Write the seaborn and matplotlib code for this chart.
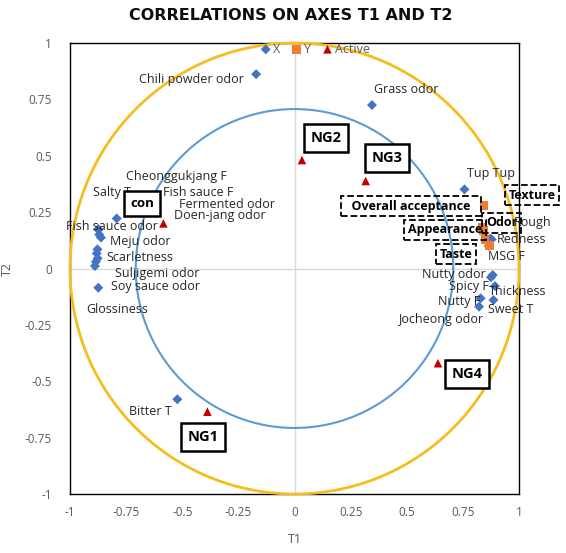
import numpy as np
import pandas as pd
import matplotlib
matplotlib.use("Agg")
import matplotlib.pyplot as plt
import seaborn as sns

# ---- data: coordinates on T1 / T2 ----
x_names = ["Chili powder odor", "Grass odor", "Tup Tup", "Cheonggukjang F", "Salty T",
           "Fish sauce F", "Fermented odor", "Doen-jang odor", "Fish sauce odor", "Meju odor",
           "Scarletness", "Suljigemi odor", "Soy sauce odor", "Glossiness", "Bitter T",
           "Rough", "Redness", "MSG F", "Nutty odor", "Spicy F", "Thickness",
           "Nutty F", "Sweet T", "Jocheong odor"]
x_t1 = [-0.171, 0.345, 0.757, -0.874, -0.792,
        -0.870, -0.878, -0.881, -0.874, -0.862,
        -0.877, -0.889, -0.874, -0.885, -0.522,
        0.872, 0.878, 0.865, 0.883, 0.875, 0.893,
        0.829, 0.886, 0.822]
x_t2 = [0.862, 0.725, 0.351, 0.172, 0.222,
        0.150, 0.085, 0.067, 0.175, 0.137,
        0.045, 0.011, -0.085, 0.030, -0.580,
        0.132, 0.129, 0.100, -0.029, -0.039, -0.078,
        -0.132, -0.140, -0.169]

y_names = ["Overall acceptance", "Texture", "Odor", "Appearance", "Taste"]
y_t1 = [0.844, 0.838, 0.841, 0.849, 0.868]
y_t2 = [0.279, 0.185, 0.168, 0.129, 0.103]

act_names = ["con", "NG1", "NG2", "NG3", "NG4"]
act_t1 = [-0.584, -0.388, 0.033, 0.317, 0.639]
act_t2 = [0.200, -0.635, 0.481, 0.388, -0.420]

ticks = [-1, -0.75, -0.5, -0.25, 0, 0.25, 0.5, 0.75, 1]
tick_labels = ["-1", "-0.75", "-0.5", "-0.25", "0", "0.25", "0.5", "0.75", "1"]

# label placement (layout only)
x_label_pos = {
    "Chili powder odor": (-0.457, 0.840), "Grass odor": (0.497, 0.796), "Tup Tup": (0.877, 0.423),
    "Cheonggukjang F": (-0.528, 0.410), "Salty T": (-0.813, 0.339), "Fish sauce F": (-0.430, 0.335),
    "Fermented odor": (-0.301, 0.282), "Doen-jang odor": (-0.332, 0.237),
    "Fish sauce odor": (-0.813, 0.188), "Meju odor": (-0.688, 0.118), "Scarletness": (-0.688, 0.047),
    "Suljigemi odor": (-0.612, -0.020), "Soy sauce odor": (-0.619, -0.082),
    "Glossiness": (-0.790, -0.184), "Bitter T": (-0.641, -0.632), "Rough": (1.061, 0.202),
    "Redness": (1.009, 0.129), "MSG F": (0.945, 0.055), "Nutty odor": (0.710, -0.026),
    "Spicy F": (0.777, -0.078), "Thickness": (0.993, -0.100), "Nutty F": (0.733, -0.147),
    "Sweet T": (0.963, -0.184), "Jocheong odor": (0.650, -0.225),
}
y_label_pos = {"Overall acceptance": (0.519, 0.277), "Texture": (1.058, 0.326),
               "Odor": (0.922, 0.202), "Appearance": (0.670, 0.171), "Taste": (0.719, 0.064)}
act_label_pos = {"con": (-0.679, 0.290), "NG1": (-0.408, -0.747), "NG2": (0.140, 0.579),
                 "NG3": (0.412, 0.490), "NG4": (0.768, -0.468)}

df_x = pd.DataFrame({"T1": x_t1, "T2": x_t2, "name": x_names})
df_y = pd.DataFrame({"T1": y_t1, "T2": y_t2, "name": y_names})
df_a = pd.DataFrame({"T1": act_t1, "T2": act_t2, "name": act_names})

sns.set_style("white")
plt.rcParams["font.family"] = ["Open Sans", "DejaVu Sans"]

fig = plt.figure(figsize=(5.66, 5.53), dpi=100)
ax = fig.add_axes([0.1237, 0.1067, 0.7933, 0.8155])

# zero lines
ax.axhline(0, color="#d9d9d9", lw=1, zorder=0)
ax.axvline(0, color="#d9d9d9", lw=1, zorder=0)

# correlation circles
theta = np.linspace(0, 2 * np.pi, 400)
ax.plot(np.cos(theta), np.sin(theta), color="#F5BD1F", lw=2, zorder=3, clip_on=False)
r = np.sqrt(0.5)
ax.plot(r * np.cos(theta), r * np.sin(theta), color="#5B9BD5", lw=1.5, zorder=3)

sns.scatterplot(data=df_x, x="T1", y="T2", marker="D", color="#4472C4", s=26,
                edgecolor="none", label="X", ax=ax, zorder=4)
sns.scatterplot(data=df_y, x="T1", y="T2", marker="s", color="#ED7D31", s=38,
                edgecolor="none", label="Y", ax=ax, zorder=4)
sns.scatterplot(data=df_a, x="T1", y="T2", marker="^", color="#C00000", s=38,
                edgecolor="none", label="Active", ax=ax, zorder=4)

txt_color = "#262626"
for n in x_names:
    px, py = x_label_pos[n]
    ax.text(px, py, n, ha="center", va="center", fontsize=9, color=txt_color,
            zorder=5, clip_on=False)

for n in y_names:
    px, py = y_label_pos[n]
    shown = "  " + n + "  " if n == "Overall acceptance" else n
    ax.text(px, py, shown, ha="center", va="center", fontsize=9, fontweight="bold",
            color="black", zorder=6, clip_on=False,
            bbox=dict(boxstyle="square,pad=0.3", fc="none", ec="black", lw=1.3, ls="--"))

for n in act_names:
    px, py = act_label_pos[n]
    fs = 9.5 if n == "con" else 10.5
    ax.text(px, py, n, ha="center", va="center", fontsize=fs, fontweight="bold",
            color="black", zorder=6, clip_on=False,
            bbox=dict(boxstyle="square,pad=0.45", fc="white", ec="black", lw=1.8))

ax.set_xlim(-1, 1)
ax.set_ylim(-1, 1)
ax.set_xticks(ticks)
ax.set_xticklabels(tick_labels)
ax.set_yticks(ticks)
ax.set_yticklabels(tick_labels)
ax.tick_params(axis="both", length=0, labelsize=8.5, labelcolor="#595959")
ax.tick_params(axis="x", pad=9)
ax.tick_params(axis="y", pad=13)
ax.set_xlabel("T1", fontsize=9, color="#595959", labelpad=10)
ax.set_ylabel("T2", fontsize=9, color="#595959", labelpad=8)
for sp in ax.spines.values():
    sp.set_visible(True)
    sp.set_color("black")
    sp.set_linewidth(1)

leg = ax.legend(loc="upper center", bbox_to_anchor=(0.545, 1.012), ncol=3, frameon=False,
                fontsize=9, handletextpad=0.1, columnspacing=0.8, borderaxespad=0,
                handlelength=1.0, labelcolor="#595959")

fig.text(0.513, 0.972, "CORRELATIONS ON AXES T1 AND T2", ha="center", va="center",
         fontsize=11.5, fontweight="bold", color="#0d0d0d", family="DejaVu Sans")

fig.savefig("out.png", dpi=100)
